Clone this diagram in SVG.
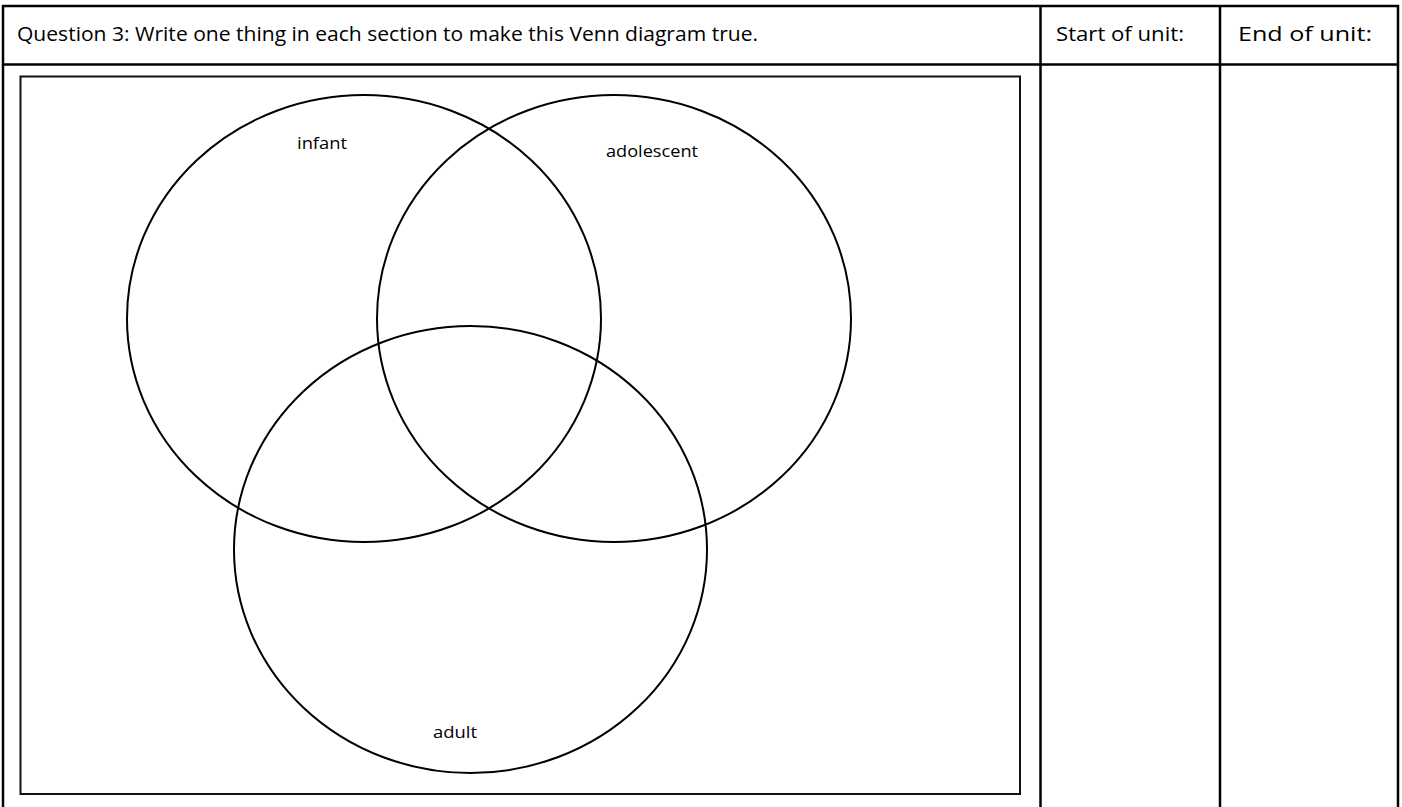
<svg xmlns="http://www.w3.org/2000/svg" width="1402" height="807" viewBox="0 0 1402 807">
<style>
.grid{stroke:#000;stroke-width:2.5;fill:none}
.frame{stroke:#111;stroke-width:2;fill:none}
.ring{stroke:#000;stroke-width:2;fill:none}
.hdr{font-family:"Open Sans","Liberation Sans",sans-serif;font-size:20px;fill:#000}
.lbl{font-family:"Open Sans","Liberation Sans",sans-serif;font-size:16px;fill:#000}
</style>
<rect width="1402" height="807" fill="#fff"/>
<g id="table">
<line class="grid" x1="2" y1="6" x2="1399" y2="6"/>
<line class="grid" x1="2" y1="64.5" x2="1399" y2="64.5"/>
<line class="grid" x1="3" y1="5" x2="3" y2="810"/>
<line class="grid" x1="1040.5" y1="5" x2="1040.5" y2="810"/>
<line class="grid" x1="1220" y1="5" x2="1220" y2="810"/>
<line class="grid" x1="1398" y1="5" x2="1398" y2="810"/>
<text class="hdr" x="17" y="41" textLength="741" lengthAdjust="spacingAndGlyphs">Question 3: Write one thing in each section to make this Venn diagram true.</text>
<text class="hdr" x="1056" y="41" textLength="128" lengthAdjust="spacingAndGlyphs">Start of unit:</text>
<text class="hdr" x="1238" y="41" textLength="134" lengthAdjust="spacingAndGlyphs">End of unit:</text>
</g>
<g id="frame"><rect class="frame" x="20.5" y="76.5" width="999.5" height="717.5"/></g>
<g id="infant">
<ellipse class="ring" cx="364" cy="318.5" rx="237" ry="223.5"/>
<text class="lbl" x="297" y="149" textLength="50" lengthAdjust="spacingAndGlyphs">infant</text>
</g>
<g id="adolescent">
<ellipse class="ring" cx="614" cy="318.5" rx="237" ry="223.5"/>
<text class="lbl" x="606" y="157" textLength="92" lengthAdjust="spacingAndGlyphs">adolescent</text>
</g>
<g id="adult">
<ellipse class="ring" cx="470.5" cy="549.5" rx="236.5" ry="223.5"/>
<text class="lbl" x="433" y="738" textLength="44" lengthAdjust="spacingAndGlyphs">adult</text>
</g>
<g id="connectors"/>
</svg>
